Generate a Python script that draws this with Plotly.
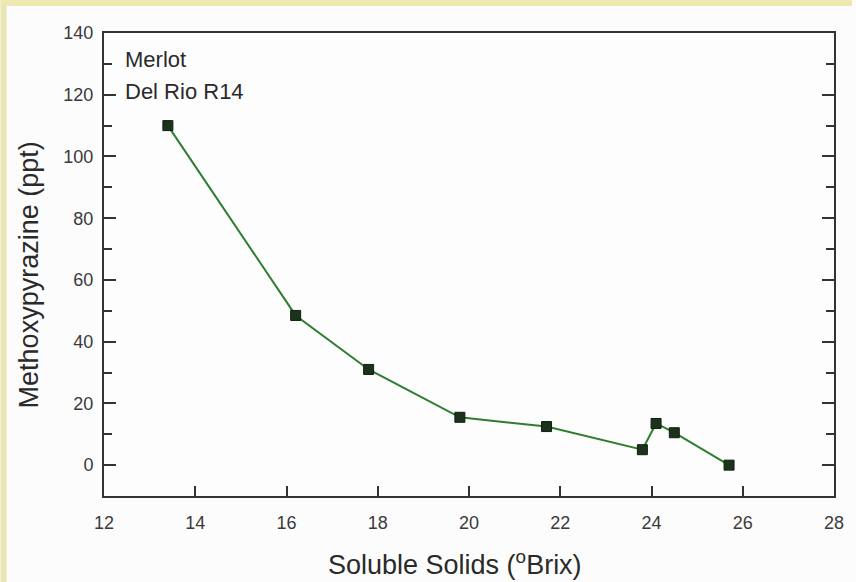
import plotly.graph_objects as go

# Soluble solids (°Brix) and methoxypyrazine (ppt) for Merlot, Del Rio R14
brix = [13.4, 16.2, 17.8, 19.8, 21.7, 23.8, 24.1, 24.5, 25.7]
mp_ppt = [110, 48.5, 31, 15.5, 12.5, 5, 13.5, 10.5, 0]

x_ticks = [12, 14, 16, 18, 20, 22, 24, 26, 28]
y_ticks = [0, 20, 40, 60, 80, 100, 120, 140]

W, H = 856, 582
L, R, T, B = 104, 18, 33, 86
pw, ph = W - L - R, H - T - B

def px_x(p):
    return (p - L) / pw

def px_y(p):
    return 1 - (p - T) / ph

fig = go.Figure()
fig.add_trace(go.Scatter(
    x=brix, y=mp_ppt, mode="lines+markers",
    line=dict(color="#2f7d2f", width=2),
    marker=dict(symbol="square", size=10, color="#1d321d",
                line=dict(color="#0f1f0f", width=1)),
    showlegend=False,
))

axis_font = dict(family="Liberation Sans, Arial, sans-serif", size=18, color="#3a3a3a")

fig.update_xaxes(
    range=[12, 28], tickvals=x_ticks, ticktext=[str(v) for v in x_ticks],
    ticks="inside", ticklen=10, tickwidth=2, tickcolor="#333",
    showline=True, linecolor="#333", linewidth=2, mirror=True,
    showgrid=False, zeroline=False, tickfont=axis_font, ticklabelstandoff=9,
)
fig.update_yaxes(
    range=[-10, 140], tickvals=y_ticks, ticktext=[str(v) for v in y_ticks],
    ticks="inside", ticklen=12, tickwidth=2, tickcolor="#333",
    minor=dict(dtick=10, tick0=0, ticks="inside", ticklen=8, tickwidth=2, tickcolor="#333"),
    showline=True, linecolor="#333", linewidth=2, mirror="ticks",
    showgrid=False, zeroline=False, tickfont=axis_font, ticklabelstandoff=5,
)

title_font = dict(family="Liberation Sans, Arial, sans-serif", size=27, color="#2a2a2a")
label_font = dict(family="Liberation Sans, Arial, sans-serif", size=22, color="#2a2a2a")

annotations = [
    dict(text="Soluble Solids (<sup>o</sup>Brix)", xref="paper", yref="paper",
         x=px_x(457), y=px_y(563), xanchor="center", yanchor="middle",
         showarrow=False, font=title_font),
    dict(text="Methoxypyrazine (ppt)", xref="paper", yref="paper",
         x=px_x(29), y=px_y(275), xanchor="center", yanchor="middle",
         textangle=-90, showarrow=False, font=title_font),
    dict(text="Merlot", xref="paper", yref="paper",
         x=px_x(123), y=px_y(59), xanchor="left", yanchor="middle",
         showarrow=False, font=label_font),
    dict(text="Del Rio R14", xref="paper", yref="paper",
         x=px_x(123), y=px_y(92), xanchor="left", yanchor="middle",
         showarrow=False, font=label_font),
]

# pale frame strips along the left and top edges
shapes = [
    dict(type="rect", xref="paper", yref="paper", layer="below",
         x0=px_x(0), x1=px_x(6), y0=px_y(H), y1=px_y(0),
         fillcolor="#e9e6b4", line=dict(width=0)),
    dict(type="rect", xref="paper", yref="paper", layer="below",
         x0=px_x(0), x1=px_x(W), y0=px_y(6), y1=px_y(0),
         fillcolor="#ece8b0", line=dict(width=0)),
]

fig.update_layout(
    width=W, height=H,
    margin=dict(l=L, r=R, t=T, b=B),
    paper_bgcolor="#fcfcfc", plot_bgcolor="#fdfdfd",
    annotations=annotations, shapes=shapes,
)

fig.write_html("out.html")
